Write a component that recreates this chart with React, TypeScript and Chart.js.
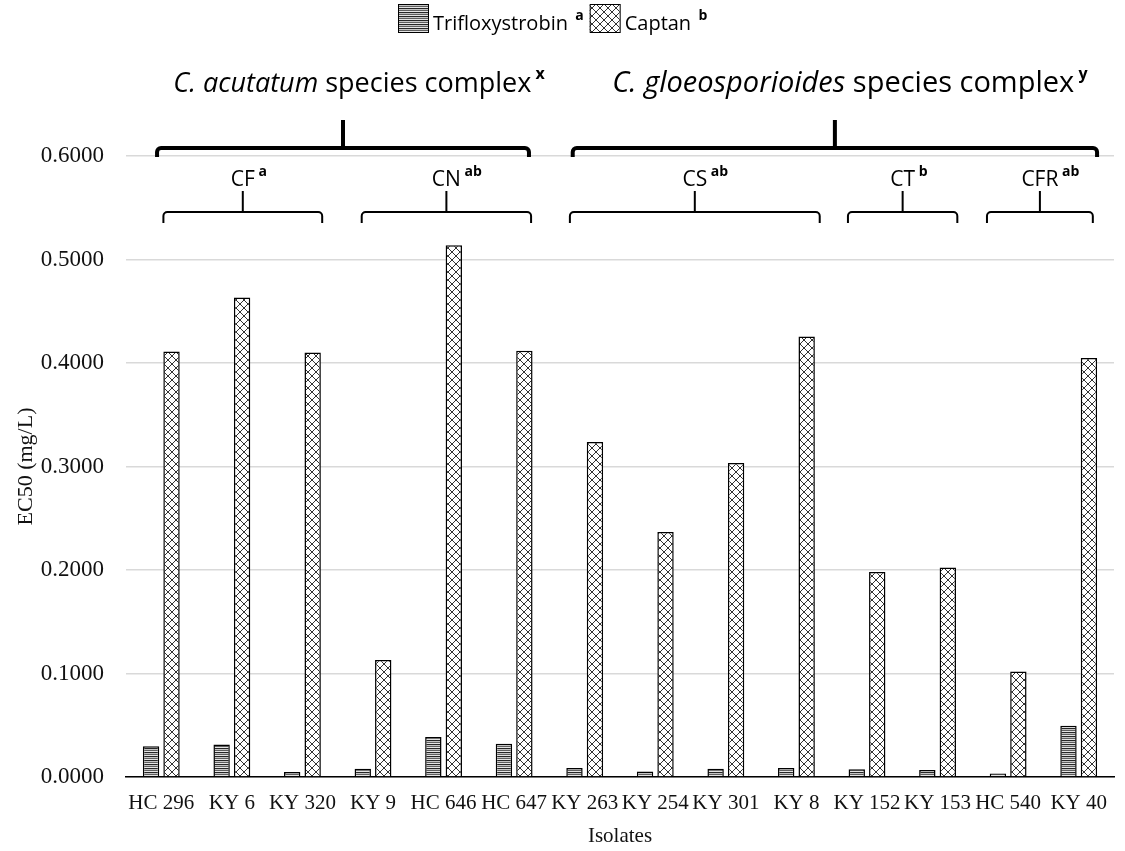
import React, { useEffect, useRef } from 'react';
import { Chart, registerables } from 'chart.js';

Chart.register(...registerables);

// ---------- data ----------
const categories = ['HC 296', 'KY 6', 'KY 320', 'KY 9', 'HC 646', 'HC 647', 'KY 263', 'KY 254', 'KY 301', 'KY 8', 'KY 152', 'KY 153', 'HC 540', 'KY 40'];
const trifloxystrobin = [0.0296, 0.0315, 0.0048, 0.0080, 0.0386, 0.0322, 0.0087, 0.0054, 0.0080, 0.0087, 0.0074, 0.0068, 0.0035, 0.0496];
const captan = [0.4112, 0.4634, 0.4102, 0.1130, 0.5138, 0.4119, 0.3236, 0.2367, 0.3033, 0.4257, 0.1980, 0.2023, 0.1020, 0.4048];
const seriesNames = ['Trifloxystrobin', 'Captan'];
const seriesLetters = ['a', 'b'];
const yMin = 0;
const yMax = 0.6;
const yStep = 0.1;

// species complexes: italic name, superscript, first & last category index
const complexNames = ['C. acutatum', 'C. gloeosporioides'];
const complexSup = ['x', 'y'];
const complexFirst = [0, 6];
const complexLast = [5, 13];

// clades: label, superscript letters, first & last category index
const cladeNames = ['CF', 'CN', 'CS', 'CT', 'CFR'];
const cladeSup = ['a', 'ab', 'ab', 'b', 'ab'];
const cladeFirst = [0, 3, 6, 10, 12];
const cladeLast = [2, 5, 9, 11, 13];

// ---------- layout (hand-drawn bracket extents, in category units) ----------
const complexPadL = [-0.06, -0.17];
const complexPadR = [0.21, 0.26];
const complexTextShift = [16, 15];
const complexFontSize = [27, 29];
const cladePadL = [0.03, -0.16, -0.21, -0.27, -0.3];
const cladePadR = [0.28, 0.24, 0.33, 0.28, 0.2];

const SANS = '"Open Sans", "Noto Sans", sans-serif';
const SERIF = '"Liberation Serif", "Times New Roman", serif';

function makeStripe(): CanvasPattern | string {
  const c = document.createElement('canvas');
  c.width = 4; c.height = 4;
  const g = c.getContext('2d');
  if (!g) return '#888';
  const rows = ['#262626', '#c4c4c4', '#5e5e5e', '#e4e4e4'];
  rows.forEach((col, i) => { g.fillStyle = col; g.fillRect(0, i, 4, 1); });
  return g.createPattern(c, 'repeat') as CanvasPattern;
}

function makeHatch(): CanvasPattern | string {
  const s = 8;
  const c = document.createElement('canvas');
  c.width = s; c.height = s;
  const g = c.getContext('2d');
  if (!g) return '#ccc';
  g.fillStyle = '#fff';
  g.fillRect(0, 0, s, s);
  g.strokeStyle = '#333';
  g.lineWidth = 1;
  g.beginPath();
  g.moveTo(0, 0); g.lineTo(s, s);
  g.moveTo(s, 0); g.lineTo(0, s);
  g.stroke();
  return g.createPattern(c, 'repeat') as CanvasPattern;
}

type Part = { t: string; font: string; dy?: number };

function partsWidth(ctx: CanvasRenderingContext2D, parts: Part[]) {
  let w = 0;
  for (const p of parts) { ctx.font = p.font; w += ctx.measureText(p.t).width; }
  return w;
}
function drawParts(ctx: CanvasRenderingContext2D, parts: Part[], x: number, y: number) {
  let cx = x;
  ctx.textAlign = 'left';
  ctx.textBaseline = 'alphabetic';
  for (const p of parts) {
    ctx.font = p.font;
    ctx.fillText(p.t, cx, y + (p.dy || 0));
    cx += ctx.measureText(p.t).width;
  }
  return cx;
}

function bracket(ctx: CanvasRenderingContext2D, x1: number, x2: number, yLine: number, yEnd: number, yTop: number, lw: number, r: number) {
  ctx.save();
  ctx.strokeStyle = '#000';
  ctx.lineWidth = lw;
  ctx.lineJoin = 'round';
  ctx.beginPath();
  ctx.moveTo(x1, yEnd);
  ctx.arcTo(x1, yLine, x1 + r, yLine, r);
  ctx.lineTo(x2 - r, yLine);
  ctx.arcTo(x2, yLine, x2, yLine + r, r);
  ctx.lineTo(x2, yEnd);
  ctx.stroke();
  const xm = (x1 + x2) / 2;
  ctx.beginPath();
  ctx.moveTo(xm, yLine);
  ctx.lineTo(xm, yTop);
  ctx.stroke();
  ctx.restore();
  return xm;
}

export default function App() {
  const ref = useRef<HTMLCanvasElement | null>(null);

  useEffect(() => {
    document.body.style.margin = '0';
    const canvas = ref.current;
    if (!canvas) return;
    const stripe = makeStripe();
    const hatch = makeHatch();
    const fills = [stripe, hatch];

    const annot = {
      id: 'annot',
      afterDraw(chart: any) {
        const ctx: CanvasRenderingContext2D = chart.ctx;
        const xs = chart.scales.x;
        const px = (v: number) => xs.getPixelForValue(v);
        ctx.save();
        ctx.fillStyle = '#000';

        // legend
        const legendFont = `20px ${SANS}`;
        const supFont = `bold 14px ${SANS}`;
        let lx = 398;
        const boxTop = 4, boxH = 28, boxW = 30, base = 30;
        seriesNames.forEach((name, i) => {
          ctx.fillStyle = fills[i] as any;
          ctx.fillRect(lx, boxTop, boxW, boxH);
          ctx.strokeStyle = '#000';
          ctx.lineWidth = 1;
          ctx.strokeRect(lx + 0.5, boxTop + 0.5, boxW, boxH);
          ctx.fillStyle = '#000';
          const end = drawParts(ctx, [
            { t: name, font: legendFont },
            { t: '  ' + seriesLetters[i], font: supFont, dy: -10 },
          ], lx + boxW + 5, base);
          lx = end + 6;
        });

        // complexes
        complexNames.forEach((nm, i) => {
          const x1 = px(complexFirst[i] + complexPadL[i]);
          const x2 = px(complexLast[i] + complexPadR[i]);
          const xm = bracket(ctx, x1, x2, 148, 157, 120, 4, 4);
          const fs = complexFontSize[i];
          const parts: Part[] = [
            { t: nm, font: `italic ${fs}px ${SANS}` },
            { t: ' species complex', font: `${fs}px ${SANS}` },
            { t: ' ' + complexSup[i], font: `bold 16px ${SANS}`, dy: -13 },
          ];
          const w = partsWidth(ctx, parts);
          ctx.fillStyle = '#000';
          drawParts(ctx, parts, xm + complexTextShift[i] - w / 2, 92);
        });

        // clades
        cladeNames.forEach((nm, i) => {
          const x1 = px(cladeFirst[i] + cladePadL[i]);
          const x2 = px(cladeLast[i] + cladePadR[i]);
          const xm = bracket(ctx, x1, x2, 212, 223, 191, 2, 4);
          ctx.font = `21px ${SANS}`;
          const mw = ctx.measureText(nm).width;
          ctx.fillStyle = '#000';
          drawParts(ctx, [
            { t: nm, font: `21px ${SANS}` },
            { t: ' ' + cladeSup[i], font: `bold 14px ${SANS}`, dy: -10 },
          ], xm - mw / 2, 186);
        });
        ctx.restore();
      },
    };

    const chart = new Chart(canvas, {
      type: 'bar',
      data: {
        labels: categories,
        datasets: [
          { label: seriesNames[0], data: trifloxystrobin, backgroundColor: stripe as any, borderColor: '#000', borderWidth: 1.5, borderSkipped: 'bottom', categoryPercentage: 0.58, barPercentage: 0.8 },
          { label: seriesNames[1], data: captan, backgroundColor: hatch as any, borderColor: '#000', borderWidth: 1.5, borderSkipped: 'bottom', categoryPercentage: 0.58, barPercentage: 0.8 },
        ],
      },
      options: {
        responsive: false,
        animation: false,
        layout: { padding: { top: 156, right: 11, bottom: 0, left: 0 } },
        plugins: { legend: { display: false }, tooltip: { enabled: false }, title: { display: false } },
        scales: {
          x: {
            grid: { display: false, drawTicks: false },
            border: { display: true, color: '#000', width: 1.5 },
            ticks: { color: '#111', font: { family: SERIF, size: 21 }, padding: 14, maxRotation: 0, autoSkip: false },
            title: { display: true, text: 'Isolates', color: '#111', font: { family: SERIF, size: 21 }, padding: { top: 4, bottom: 2 } },
            afterFit: (s: any) => { s.height = 74; },
          },
          y: {
            min: yMin,
            max: yMax,
            grid: { color: '#d9d9d9', lineWidth: 1.5, drawTicks: false },
            border: { display: false },
            ticks: { stepSize: yStep, color: '#111', font: { family: SERIF, size: 23 }, padding: 22, callback: (v: any) => Number(v).toFixed(4) },
            title: { display: true, text: 'EC50 (mg/L)', color: '#111', font: { family: SERIF, size: 22 }, padding: { top: 13, bottom: 0 } },
            afterFit: (s: any) => { s.width = 126; },
          },
        },
      },
      plugins: [annot],
    });
    return () => chart.destroy();
  }, []);

  return (
    <div style={{ width: 1125, height: 851, background: '#fff' }}>
      <canvas ref={ref} width={1125} height={851} style={{ display: 'block' }} />
    </div>
  );
}
